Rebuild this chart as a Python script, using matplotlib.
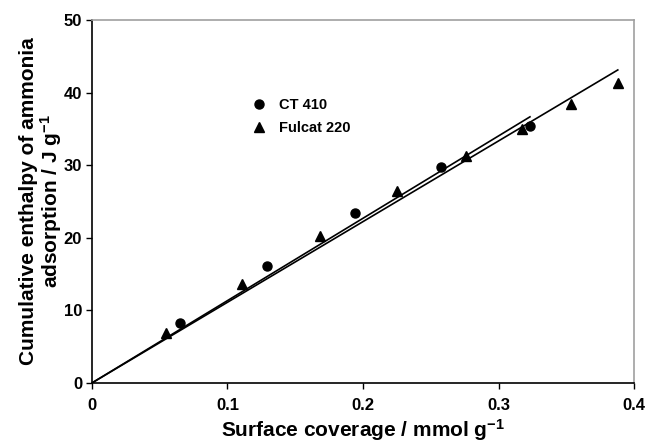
import matplotlib
matplotlib.use("Agg")
import matplotlib.pyplot as plt
import numpy as np

plt.rcParams['font.family'] = ['Liberation Sans', 'DejaVu Sans']
plt.rcParams['font.weight'] = 'bold'
plt.rcParams['mathtext.fontset'] = 'custom'
plt.rcParams['mathtext.rm'] = 'Liberation Sans:bold'
plt.rcParams['mathtext.bf'] = 'Liberation Sans:bold'
plt.rcParams['mathtext.default'] = 'bf'

# CT 410
ct_x = [0.065, 0.1294, 0.1939, 0.2576, 0.3232]
ct_y = [8.2, 16.1, 23.4, 29.8, 35.4]

# Fulcat 220
fc_x = [0.0544, 0.1105, 0.168, 0.2249, 0.276, 0.317, 0.3533, 0.388]
fc_y = [6.9, 13.7, 20.2, 26.5, 31.2, 35.0, 38.4, 41.3]

# slopes of the fitted lines through the origin
ct_slope = 113.4
fc_slope = 111.1

xticks = [0, 0.1, 0.2, 0.3, 0.4]
xticklabels = ['0', '0.1', '0.2', '0.3', '0.4']
yticks = [0, 10, 20, 30, 40, 50]

fig = plt.figure(figsize=(6.47, 4.42), dpi=100)
ax = fig.add_axes([0.142, 0.1335, 0.838, 0.8215])

ax.plot(ct_x, ct_y, 'o', color='k', markersize=6.5, label='CT 410')
ax.plot(fc_x, fc_y, '^', color='k', markersize=7.5, label='Fulcat 220')

ax.plot([0, max(ct_x)], [0, ct_slope * max(ct_x)], color='k', lw=1.2)
ax.plot([0, max(fc_x)], [0, fc_slope * max(fc_x)], color='k', lw=1.2)

ax.set_xlim(0, 0.4)
ax.set_ylim(0, 50)
ax.set_xticks(xticks)
ax.set_xticklabels(xticklabels)
ax.set_yticks(yticks)
ax.tick_params(direction='out', length=4, width=1, labelsize=12)
ax.tick_params(axis='x', pad=7)
ax.tick_params(axis='y', pad=3)
for lab in ax.get_xticklabels() + ax.get_yticklabels():
    lab.set_fontweight('bold')

ax.spines['left'].set_color('k')
ax.spines['bottom'].set_color('k')
ax.spines['top'].set_color('#a0a0a0')
ax.spines['right'].set_color('#a0a0a0')
for s in ax.spines.values():
    s.set_linewidth(1.2)

ax.set_xlabel('Surface coverage / mmol g$^{-1}$', fontsize=15, fontweight='bold', labelpad=3)
ax.set_ylabel('Cumulative enthalpy of ammonia\nadsorption / J g$^{-1}$', fontsize=15,
              fontweight='bold', labelpad=0, linespacing=1.0)

ax.legend(loc='upper left', bbox_to_anchor=(0.27, 0.82), frameon=False,
          prop={'size': 10.5, 'weight': 'bold'}, handletextpad=0.9, labelspacing=0.6,
          handlelength=1.0)

fig.savefig('out.png', dpi=100)
